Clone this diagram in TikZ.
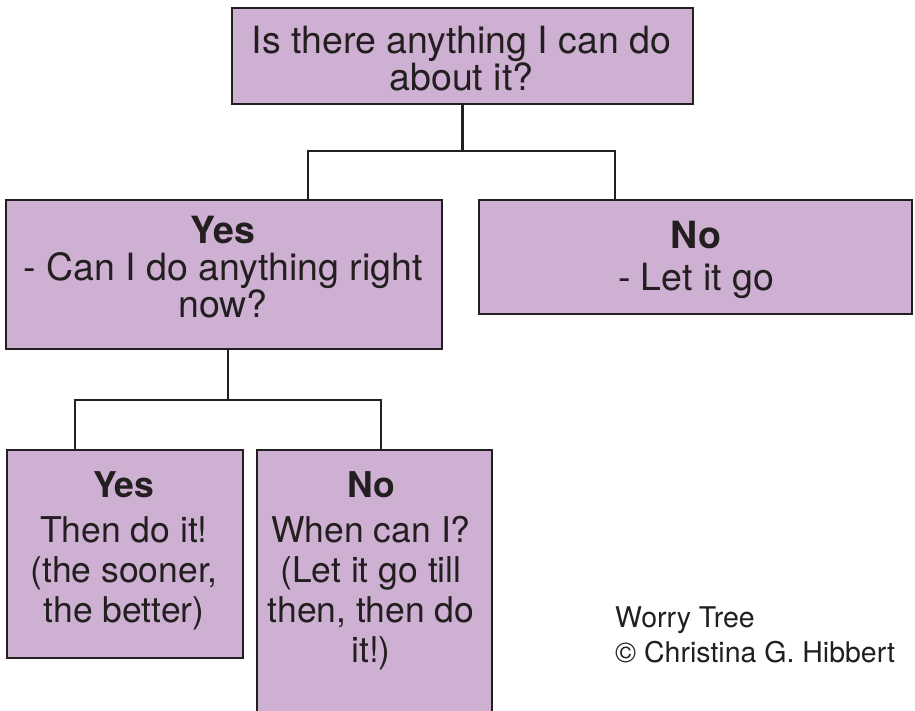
\documentclass[tikz,border=0pt]{standalone}
\usepackage{fontspec}
\setmainfont{TeX Gyre Heros}
\definecolor{boxfill}{HTML}{CDB0D2}
\definecolor{ink}{HTML}{231F20}
\begin{document}
\begin{tikzpicture}[x=1pt,y=-1pt,
  box/.style={draw=ink, fill=boxfill, line width=2.6pt, rectangle, inner sep=0pt},
  bigtxt/.style={text=ink, align=center, inner sep=0pt, anchor=north, font=\fontsize{37.5}{37}\selectfont},
  smalltxt/.style={text=ink, align=center, inner sep=0pt, anchor=north, font=\fontsize{35.5}{40}\selectfont},
  credittxt/.style={text=ink, align=left, inner sep=0pt, anchor=north west, font=\fontsize{28.5}{35}\selectfont},
  conn/.style={draw=ink, line width=2.5pt}]
\useasboundingbox (0,0) rectangle (915,711);
\clip (0,0) rectangle (915,711);
\fill[white] (0,0) rectangle (915,711);
% boxes
\node[box, minimum width=461pt, minimum height=96pt] (top) at (462.5,56) {};
\node[box, minimum width=436pt, minimum height=149pt] (yes) at (224,274.5) {};
\node[box, minimum width=433pt, minimum height=114pt] (no) at (695.5,257) {};
\node[box, minimum width=236pt, minimum height=208pt] (byes) at (125,554) {};
\node[box, minimum width=235pt, minimum height=310pt] (bno) at (374.5,605) {};
% connectors
\coordinate (jl1) at (308,151);
\coordinate (jr1) at (615,151);
\draw[conn] (top.south) -- (top.south |- jl1);
\draw[conn] (jl1 |- yes.north) -- (jl1) -- (jr1) -- (jr1 |- no.north);
\coordinate (jm2) at (228,400);
\coordinate (jl2) at (75,400);
\coordinate (jr2) at (381,400);
\draw[conn] (jm2 |- yes.south) -- (jm2);
\draw[conn] (jl2 |- byes.north) -- (jl2) -- (jr2) -- (jr2 |- bno.north);
% texts
\node[bigtxt] (ttop) at (461.5,26) {Is there anything I can do\\about it?};
\node[bigtxt] (tyes) at (223,216) {\textbf{Yes}\\- Can I do anything right\\now?};
\node[bigtxt] (tno) at (696,221) {\textbf{No}\\[5pt]- Let it go};
\node[smalltxt] (tbyes) at (124,471.5) {\textbf{Yes}\\[5pt]Then do it!\\(the sooner,\\the better)};
\node[smalltxt] (tbno) at (371,471.5) {\textbf{No}\\[5pt]When can I?\\(Let it go till\\then, then do\\it!)};
\node[credittxt] (credit) at (615,606.5) {Worry Tree\\© Christina G. Hibbert};
\end{tikzpicture}
\end{document}
